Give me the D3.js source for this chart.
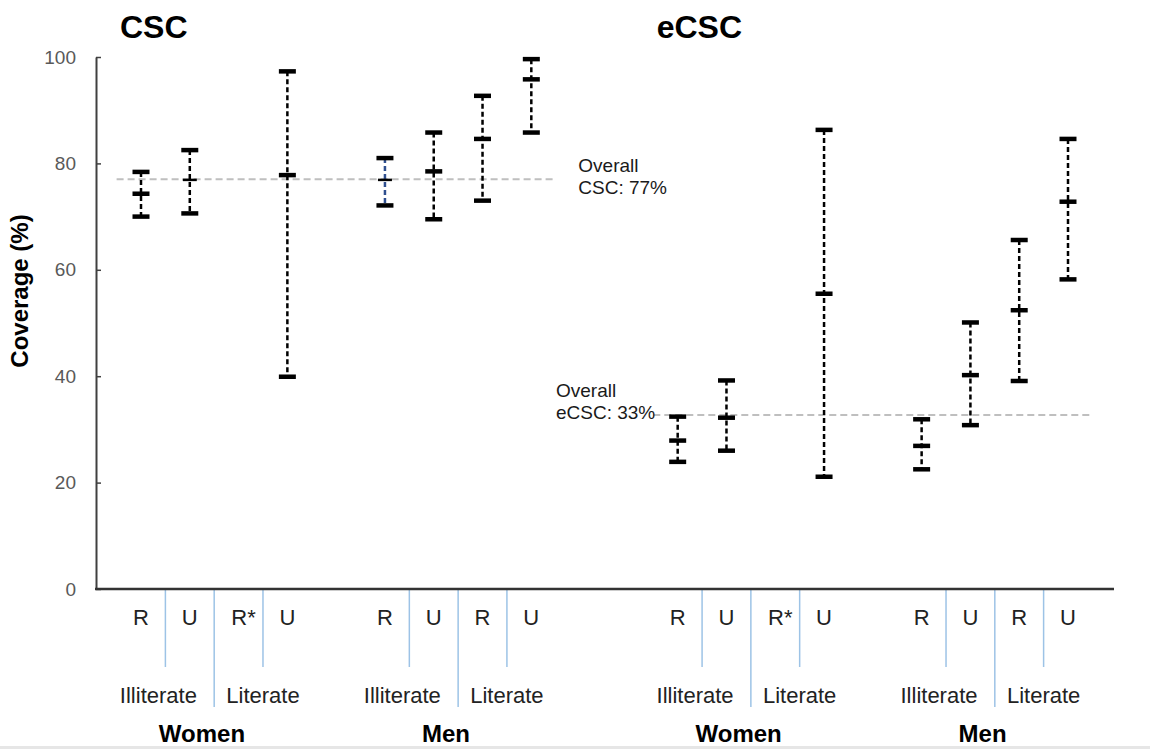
<!DOCTYPE html>
<html>
<head>
<meta charset="utf-8">
<script src="https://cdn.jsdelivr.net/npm/d3@7"></script>
<style>
  html, body { margin: 0; padding: 0; background: #fff; }
  svg { display: block; font-family: "Liberation Sans", Arial, sans-serif; }
</style>
</head>
<body>
<svg id="chart" width="1150" height="749"></svg>
<script>
// ---------------- data ----------------
const panels = ["CSC", "eCSC"];
const sexes = ["Women", "Men"];
const literacy = ["Illiterate", "Literate"];
const residence = ["R", "U"];
// order: Women-Ill-R, Women-Ill-U, Women-Lit-R*, Women-Lit-U, Men-Ill-R, Men-Ill-U, Men-Lit-R, Men-Lit-U
const subLabels = ["R", "U", "R*", "U", "R", "U", "R", "U"];
const cscMid  = [74.3, 76.9, null, 77.8, 76.9, 78.5, 84.6, 95.8];
const cscLow  = [70.0, 70.6, null, 39.9, 72.1, 69.5, 73.0, 85.8];
const cscHigh = [78.4, 82.5, null, 97.3, 81.0, 85.8, 92.7, 99.6];
const ecscMid  = [27.9, 32.2, null, 55.5, 26.9, 40.2, 52.4, 72.8];
const ecscLow  = [23.9, 26.0, null, 21.1, 22.5, 30.8, 39.1, 58.2];
const ecscHigh = [32.4, 39.2, null, 86.3, 31.9, 50.1, 65.6, 84.6];
const overallValues = [77, 32.7];
const overallLabels = [["Overall", "CSC: 77%"], ["Overall", "eCSC: 33%"]];
const yTicks = [0, 20, 40, 60, 80, 100];

// ---------------- layout ----------------
const svg = d3.select("#chart");
const yAxisX = 96, xAxisEnd = 1114;
const y = d3.scaleLinear().domain([0, 100]).range([589, 57]);
const x = d3.scaleLinear().domain([0, 19]).range([141, 1068]);
const slotOf = (p, i) => p * 11 + Math.floor(i / 4) * 5 + (i % 4);

// bottom grey strip
svg.append("rect").attr("x", 0).attr("y", 746).attr("width", 1150).attr("height", 3).attr("fill", "#e6e6e6");

// titles
panels.forEach((p, pi) => {
  svg.append("text").attr("x", x(pi * 11) - 21).attr("y", 38)
    .attr("font-size", 32).attr("font-weight", "bold").attr("fill", "#000").text(p);
});

// y axis
const yAxis = d3.axisLeft(y).tickValues(yTicks).tickSizeInner(-5).tickSizeOuter(0).tickPadding(20);
const ga = svg.append("g").attr("transform", `translate(${yAxisX},0)`).call(yAxis);
ga.select(".domain").attr("stroke", "#404040").attr("stroke-width", 2);
ga.selectAll(".tick line").attr("stroke", "#404040").attr("stroke-width", 1.5);
ga.selectAll(".tick text").attr("font-size", 19).attr("fill", "#595959")
  .attr("font-family", "Liberation Sans, Arial, sans-serif");

svg.append("text").attr("transform", `translate(28,291) rotate(-90)`)
  .attr("text-anchor", "middle").attr("font-size", 24).attr("font-weight", "bold").text("Coverage (%)");

// separator lines
panels.forEach((p, pi) => {
  sexes.forEach((s, si) => {
    const base = pi * 11 + si * 5;
    [[0.5, 667], [1.5, 707], [2.5, 667]].forEach(([o, yb]) => {
      svg.append("line").attr("x1", x(base + o)).attr("x2", x(base + o))
        .attr("y1", y(0)).attr("y2", yb).attr("stroke", "#9dc3e6").attr("stroke-width", 1.5);
    });
  });
});

// x axis line
svg.append("line").attr("x1", yAxisX - 1).attr("x2", xAxisEnd).attr("y1", y(0)).attr("y2", y(0))
  .attr("stroke", "#333").attr("stroke-width", 2.5);

// category labels
panels.forEach((p, pi) => {
  subLabels.forEach((lab, i) => {
    svg.append("text").attr("x", x(slotOf(pi, i)) + (lab === "R*" ? 5 : 0)).attr("y", 625)
      .attr("text-anchor", "middle").attr("font-size", 22).attr("fill", "#222").text(lab);
  });
  sexes.forEach((s, si) => {
    const base = pi * 11 + si * 5;
    literacy.forEach((l, li) => {
      svg.append("text").attr("x", x(base + li * 2 + 0.5) - (li === 0 ? 7 : 0)).attr("y", 703)
        .attr("text-anchor", "middle").attr("font-size", 22).attr("fill", "#222").text(l);
    });
    svg.append("text").attr("x", x(base + 1.25)).attr("y", 742)
      .attr("text-anchor", "middle").attr("font-size", 24).attr("font-weight", "bold").attr("fill", "#000").text(s);
  });
});

// overall reference lines
panels.forEach((p, pi) => {
  svg.append("line").attr("x1", x(pi * 11 - 0.5)).attr("x2", x(pi * 11 + 8.5))
    .attr("y1", y(overallValues[pi])).attr("y2", y(overallValues[pi]))
    .attr("stroke", "#bfbfbf").attr("stroke-width", 2).attr("stroke-dasharray", "7,4");
});
// annotations
const ann = [
  { x: x(8) + 47, y0: y(overallValues[0]) - 7, },
  { x: 556, y0: y(overallValues[1]) - 18, }
];
ann.forEach((a, pi) => {
  overallLabels[pi].forEach((t, k) => {
    svg.append("text").attr("x", a.x).attr("y", a.y0 + k * 22).attr("font-size", 19).attr("fill", "#1a1a1a").text(t);
  });
});

// error bars
const series = [[cscLow, cscMid, cscHigh], [ecscLow, ecscMid, ecscHigh]];
series.forEach(([lo, mid, hi], pi) => {
  mid.forEach((m, i) => {
    if (m === null) return;
    const cx = x(slotOf(pi, i));
    const g = svg.append("g");
    const col = (pi === 0 && i === 4) ? "#2f4f8f" : "#000";
    g.append("line").attr("x1", cx).attr("x2", cx).attr("y1", y(hi[i])).attr("y2", y(lo[i]))
      .attr("stroke", col).attr("stroke-width", 2.5).attr("stroke-dasharray", "5,3");
    [hi[i], lo[i]].forEach(v => {
      g.append("line").attr("x1", cx - 8.5).attr("x2", cx + 8.5).attr("y1", y(v)).attr("y2", y(v))
        .attr("stroke", "#000").attr("stroke-width", 4.5);
    });
    const thin = Math.abs(m - overallValues[pi]) < 0.5 && pi === 0;
    g.append("line").attr("x1", cx - (thin ? 7 : 8.5)).attr("x2", cx + (thin ? 7 : 8.5)).attr("y1", y(m)).attr("y2", y(m))
      .attr("stroke", "#000").attr("stroke-width", thin ? 2.5 : 4.5);
  });
});
</script>
</body>
</html>
